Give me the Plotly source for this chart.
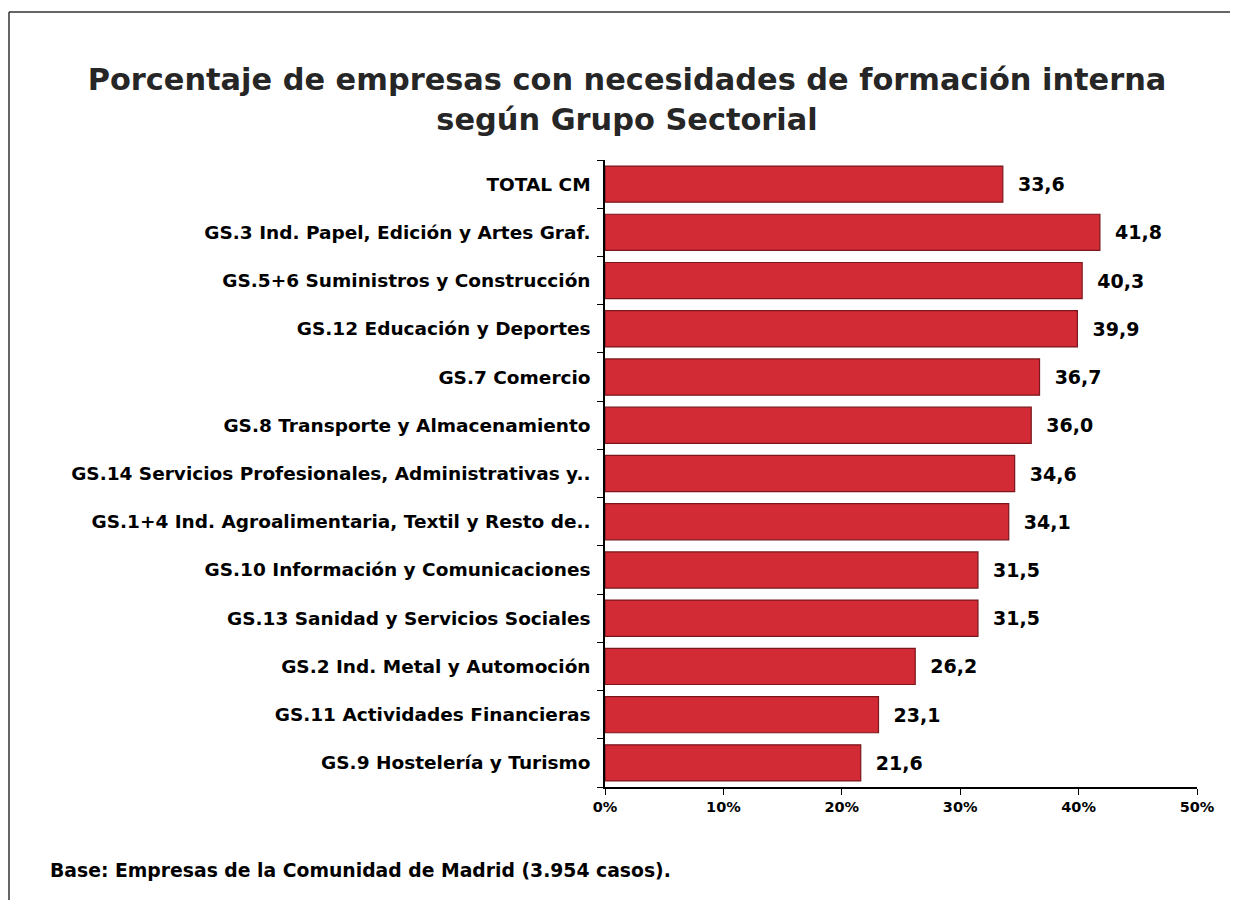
import plotly.graph_objects as go

categories = [
    "TOTAL CM",
    "GS.3 Ind. Papel, Edición y Artes Graf.",
    "GS.5+6 Suministros y Construcción",
    "GS.12 Educación y Deportes",
    "GS.7 Comercio",
    "GS.8 Transporte y Almacenamiento",
    "GS.14 Servicios Profesionales, Administrativas y..",
    "GS.1+4 Ind. Agroalimentaria, Textil y Resto de..",
    "GS.10 Información y Comunicaciones",
    "GS.13 Sanidad y Servicios Sociales",
    "GS.2 Ind. Metal y Automoción",
    "GS.11 Actividades Financieras",
    "GS.9 Hostelería y Turismo",
]
values = [33.6, 41.8, 40.3, 39.9, 36.7, 36.0, 34.6, 34.1, 31.5, 31.5, 26.2, 23.1, 21.6]
x_ticks = [0, 10, 20, 30, 40, 50]
x_tick_labels = ["0%", "10%", "20%", "30%", "40%", "50%"]

FONT = "DejaVu Sans"
labels = ["\u00a0\u00a0<b>" + f"{v:.1f}".replace(".", ",") + "</b>" for v in values]

# page has an 8px body margin; figure coords = page coords - 8
W, H = 1230, 892
L, R, T, B = 597, 1189, 152, 779
PW, PH = R - L, B - T

fig = go.Figure()
fig.add_trace(go.Bar(
    y=categories, x=values, orientation="h",
    marker=dict(color="#d22b35", line=dict(color="#7a161c", width=1.2)),
    text=labels, textposition="outside", cliponaxis=False,
    textfont=dict(family=FONT, size=19, color="#000000"),
    hoverinfo="skip",
))

fig.update_layout(
    width=W, height=H,
    margin=dict(l=L, r=W - R, t=T, b=H - B, pad=0),
    paper_bgcolor="white", plot_bgcolor="white",
    showlegend=False, bargap=0.25,
    font=dict(family=FONT, color="#000000"),
    title=dict(
        text="<b>Porcentaje de empresas con necesidades de formación interna<br>según Grupo Sectorial</b>",
        x=619 / W, xanchor="center", y=1 - 82 / H, yanchor="top",
        font=dict(family=FONT, size=30.4, color="#262626"),
    ),
)
fig.update_xaxes(
    range=[0, 50], tickvals=x_ticks, ticktext=[f"<b>{t}</b>" for t in x_tick_labels],
    showgrid=False, zeroline=False, showline=True, linecolor="#000000", linewidth=1.5,
    ticks="outside", ticklen=6, tickcolor="#000000",
    tickfont=dict(family=FONT, size=14.5, color="#000000"),
)
fig.update_yaxes(
    autorange="reversed", showgrid=False, zeroline=False,
    showline=True, linecolor="#000000", linewidth=1.5,
    ticks="outside", ticklen=6, tickcolor="#000000", tickson="boundaries",
    tickvals=categories, ticktext=[f"<b>{c}</b>" for c in categories],
    tickfont=dict(family=FONT, size=18.5, color="#000000"),
    ticklabelstandoff=9,
)

fig.add_annotation(
    text="<b>Base: Empresas de la Comunidad de Madrid (3.954 casos).</b>",
    xref="paper", yref="paper", x=(40 - L) / PW, y=-(862 - B) / PH,
    xanchor="left", yanchor="middle", showarrow=False,
    font=dict(family=FONT, size=18.8, color="#000000"),
)

# outer frame (top and left edges visible)
fx0 = (1 - L) / PW
fy0 = (B - 4) / PH
fig.add_shape(type="line", xref="paper", yref="paper",
              x0=fx0, x1=(W - L) / PW, y0=fy0, y1=fy0,
              line=dict(color="#333333", width=1.5))
fig.add_shape(type="line", xref="paper", yref="paper",
              x0=fx0, x1=fx0, y0=fy0, y1=-(H - B) / PH,
              line=dict(color="#333333", width=1.5))

fig.write_html("out.html")
